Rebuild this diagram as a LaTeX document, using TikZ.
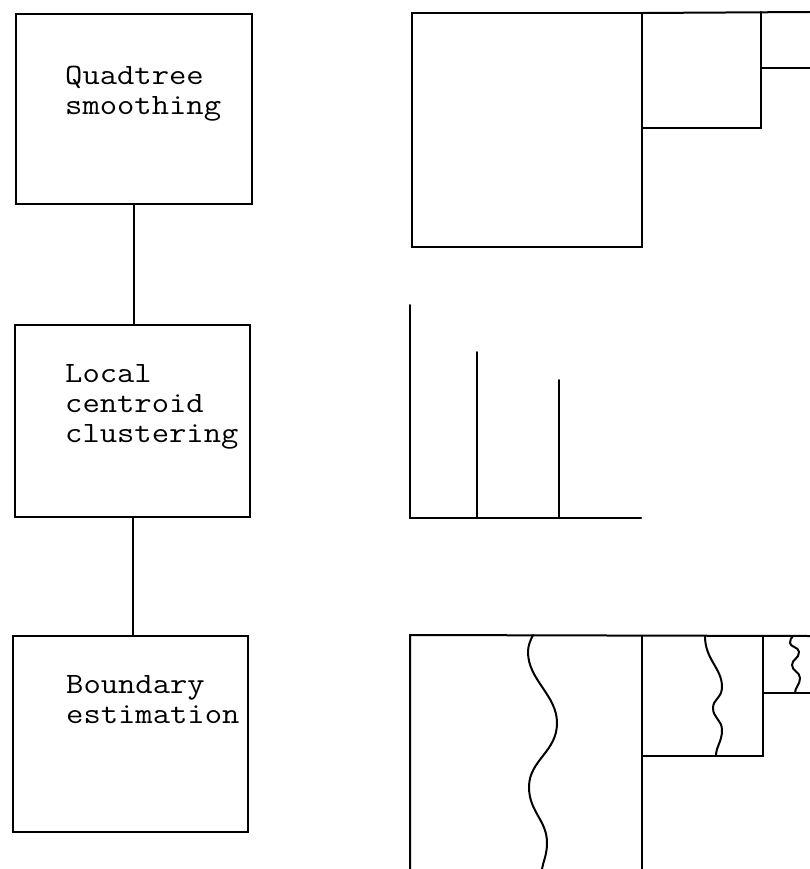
\documentclass[tikz,border=0pt]{standalone}
\usepackage{fontspec}
\newfontfamily\typewriter[FakeStretch=1.14]{Latin Modern Mono}
\tikzset{
  box/.style={draw, rectangle, inner sep=0pt, line width=2pt},
  lbl/.style={align=left, inner sep=0pt, anchor=base west,
    font=\fontsize{29.5pt}{30pt}\selectfont\typewriter},
  ln/.style={line width=2pt, line cap=round},
  wave/.style={line width=2pt, line cap=round}
}
\begin{document}
\begin{tikzpicture}[x=1pt, y=-1pt]
\useasboundingbox (0,0) rectangle (810,869);
% left column: process boxes
\node[box, minimum width=236pt, minimum height=190pt] (q) at (134,109) {};
\node[box, minimum width=235pt, minimum height=192pt] (l) at (132.5,421) {};
\node[box, minimum width=235pt, minimum height=196pt] (b) at (130.5,734) {};
\node[lbl] (qt) at (65,115) {Quadtree\\smoothing};
\node[lbl] (lt) at (65,442) {Local\\centroid\\clustering};
\node[lbl] (bt) at (66,723) {Boundary\\estimation};
\draw[ln] (q.south) -- (q.south |- l.north);
\draw[ln] (l.south) -- (l.south |- b.north);
% top right: quadtree squares
\draw[ln] (412,13) rectangle (642,247);
\draw[ln] (642,128) -- (761,128) -- (761,12);
\draw[ln] (642,13) -- (810,12);
\draw[ln] (761,68) -- (810,68);
% middle right: histogram
\draw[ln] (410,305) -- (410,518) -- (641,518);
\draw[ln] (477,518) -- (477,352);
\draw[ln] (559,518) -- (559,380);
% bottom right: squares with boundaries
\draw[ln] (410,869) -- (410,635) -- (810,636);
\draw[ln] (642,869) -- (642,636);
\draw[ln] (642,756) -- (763,756) -- (763,636);
\draw[ln] (763,693) -- (810,693);
% wavy boundaries
\draw[wave] (533,635) .. controls (530,641) and (528,646) .. (528,652)
  .. controls (528,680) and (557,695) .. (557,723)
  .. controls (557,752) and (529,760) .. (529,787)
  .. controls (529,812) and (547,820) .. (547,843)
  .. controls (547,855) and (543,862) .. (542,869);
\draw[wave] (705,636) .. controls (705,660) and (722,668) .. (722,687)
  .. controls (722,698) and (713,699) .. (713,708)
  .. controls (713,718) and (722,720) .. (722,730)
  .. controls (722,742) and (716,746) .. (716,756);
\draw[wave] (793,636) .. controls (791,638) and (790,640) .. (790,643)
  .. controls (790,647) and (799,647) .. (799,652)
  .. controls (799,659) and (792,659) .. (792,665)
  .. controls (792,671) and (800,672) .. (800,678)
  .. controls (800,685) and (795,687) .. (795,693);
\end{tikzpicture}
\end{document}
